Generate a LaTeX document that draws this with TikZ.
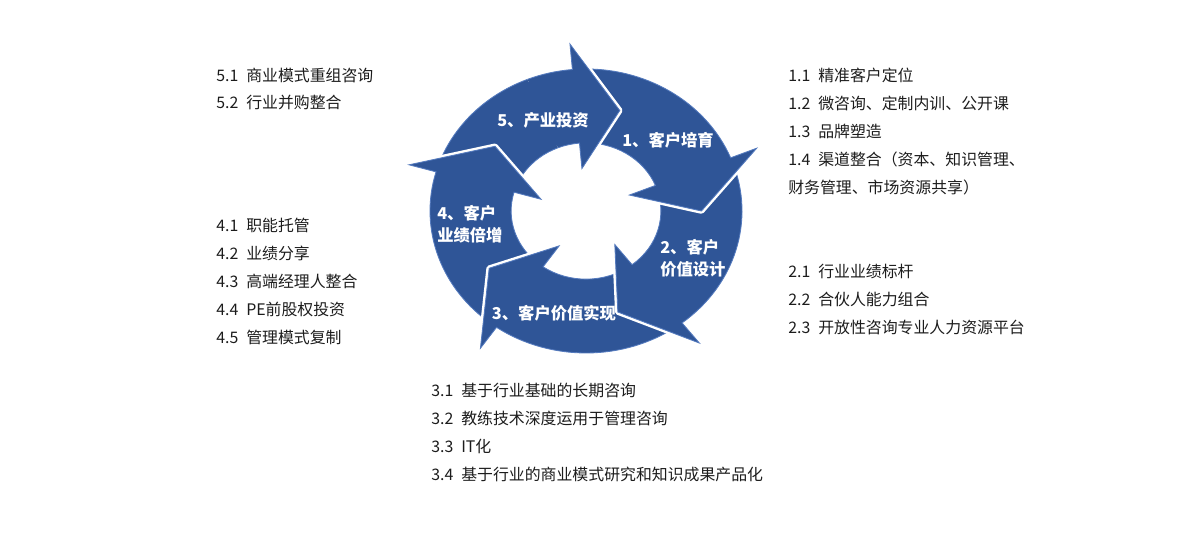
\documentclass[tikz,border=0pt]{standalone}
\usepackage{fontspec}
\newfontfamily\cjk{Noto Sans CJK SC}
\usepackage{tikz}

\definecolor{arrowblue}{RGB}{47,85,151}
\definecolor{arrowrim}{RGB}{84,122,190}
\definecolor{listgray}{RGB}{28,28,28}

\begin{document}
\begin{tikzpicture}[
        listtext/.style={font=\cjk\fontsize{11.3}{19.9}\selectfont, text=listgray, align=left, anchor=west, inner sep=0pt},
        steplabel/.style={font=\cjk\bfseries\fontsize{11.6}{15.8}\selectfont, text=white, inner sep=0pt},
        cyclearrow/.style={fill=arrowblue, draw=arrowrim, line width=0.6pt,
            preaction={draw=white, line width=4pt, line join=round}}]
    \useasboundingbox (0,0) rectangle (30,13.4);

    % the five arrows of the cycle
    \begin{scope}[shift={(14.65,8.125)}, xscale=3.9, yscale=3.55]
        \foreach \tail/\base in {-198/-265, -127/-196, -54/-125, 20/-52, 93/22}
            \filldraw[cyclearrow] (\tail:1) arc[start angle=\tail, end angle=\base, radius=1]
                -- (\base:1.18) -- ({\base-22}:0.74) -- (\base:0.30) -- (\base:0.48)
                arc[start angle=\base, end angle=\tail, radius=0.48] -- cycle;
        % head of arrow 5 lies on the tail of arrow 1
        \begin{scope}
            \clip (0,0) -- (112:1.5) arc[start angle=112, end angle=60, radius=1.5] -- cycle;
            \filldraw[cyclearrow] (-198:1) arc[start angle=-198, end angle=-265, radius=1]
                -- (-265:1.18) -- (-287:0.74) -- (-265:0.30) -- (-265:0.48)
                arc[start angle=-265, end angle=-198, radius=0.48] -- cycle;
        \end{scope}
    \end{scope}

    \node[steplabel] (step5) at (13.575,10.4) {5、产业投资};
    \node[steplabel] (step1) at (16.7,9.9) {1、客户培育};
    \node[steplabel, align=left, anchor=west] (step2) at (16.5,6.95) {2、客户\\价值设计};
    \node[steplabel] (step3) at (13.85,5.575) {3、客户价值实现};
    \node[steplabel, align=left, anchor=west] (step4) at (10.925,7.8) {4、客户\\业绩倍增};

    \node[listtext] (list5) at (5.4,11.175) {5.1\enspace 商业模式重组咨询\\5.2\enspace 行业并购整合};
    \node[listtext] (list1) at (19.7,10.1125) {1.1\enspace 精准客户定位\\1.2\enspace 微咨询、定制内训、公开课\\1.3\enspace 品牌塑造\\1.4\enspace 渠道整合（资本、知识管理、\\财务管理、市场资源共享）};
    \node[listtext] (list4) at (5.4,6.3625) {4.1\enspace 职能托管\\4.2\enspace 业绩分享\\4.3\enspace 高端经理人整合\\4.4\enspace PE前股权投资\\4.5\enspace 管理模式复制};
    \node[listtext] (list2) at (19.7,5.9125) {2.1\enspace 行业业绩标杆\\2.2\enspace 合伙人能力组合\\2.3\enspace 开放性咨询专业人力资源平台};
    \node[listtext] (list3) at (10.775,2.5875) {3.1\enspace 基于行业基础的长期咨询\\3.2\enspace 教练技术深度运用于管理咨询\\3.3\enspace IT化\\3.4\enspace 基于行业的商业模式研究和知识成果产品化};
\end{tikzpicture}
\end{document}
